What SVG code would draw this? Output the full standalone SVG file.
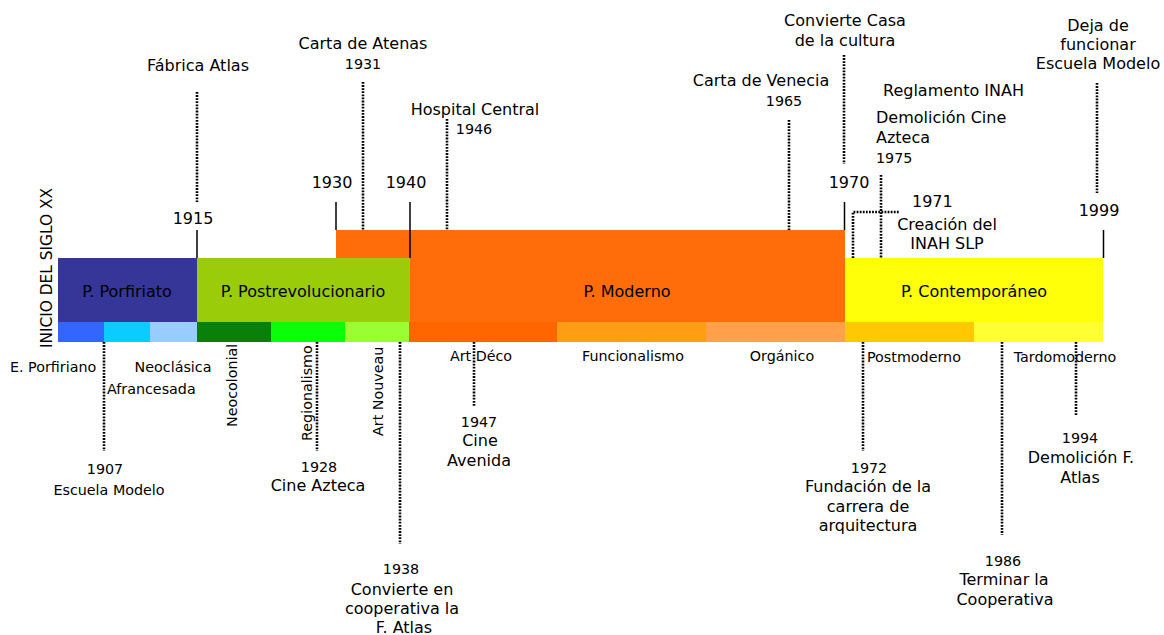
<svg xmlns="http://www.w3.org/2000/svg" width="1164" height="635" viewBox="0 0 1164 635">
<style>
text{font-family:"DejaVu Sans","Verdana",sans-serif;fill:#000}
.l{font-size:16px}
.s{font-size:14.3px}
.m{text-anchor:middle}
.dot{stroke:#000;stroke-width:2.6;stroke-dasharray:1.8 1.3;fill:none}
.sol{stroke:#000;stroke-width:1.5;fill:none}
</style>
<rect width="1164" height="635" fill="#fff"/>
<g id="p-moderno">
<rect x="336" y="230" width="509" height="92" fill="#FF6D0A"/>
<text class="l m" x="627" y="297">P. Moderno</text>
</g>
<g id="p-porfiriato">
<rect x="58" y="258" width="139" height="64" fill="#363699"/>
<text class="l m" x="127" y="297">P. Porfiriato</text>
</g>
<g id="p-postrevolucionario">
<rect x="197" y="258" width="213" height="64" fill="#9BCC0A"/>
<text class="l m" x="303" y="297">P. Postrevolucionario</text>
</g>
<g id="p-contemporaneo">
<rect x="845" y="258" width="258" height="64" fill="#FFFF0A"/>
<text class="l m" x="974" y="297">P. Contemporáneo</text>
</g>
<g id="styles-row">
<rect x="58" y="322" width="46" height="20" fill="#3366FF"/>
<rect x="104" y="322" width="46" height="20" fill="#0ACCFF"/>
<rect x="150" y="322" width="47" height="20" fill="#99CCFF"/>
<rect x="197" y="322" width="74" height="20" fill="#0A800A"/>
<rect x="271" y="322" width="74" height="20" fill="#0AFF0A"/>
<rect x="345" y="322" width="64" height="20" fill="#99FF33"/>
<rect x="409" y="322" width="148" height="20" fill="#FF6600"/>
<rect x="557" y="322" width="149" height="20" fill="#FF9E14"/>
<rect x="706" y="322" width="139" height="20" fill="#FFA04A"/>
<rect x="845" y="322" width="129" height="20" fill="#FFC800"/>
<rect x="974" y="322" width="129" height="20" fill="#FFFF33"/>
</g>
<g id="connectors">
<line class="sol" x1="197" y1="230" x2="197" y2="258"/>
<line class="sol" x1="336" y1="202" x2="336" y2="230"/>
<line class="sol" x1="410" y1="202" x2="410" y2="258"/>
<line class="sol" x1="844.5" y1="202" x2="844.5" y2="230"/>
<line class="sol" x1="1103.5" y1="230" x2="1103.5" y2="258"/>
<line class="dot" x1="197" y1="92" x2="197" y2="202"/>
<line class="dot" x1="363" y1="82" x2="363" y2="230"/>
<line class="dot" x1="447" y1="119" x2="447" y2="230"/>
<line class="dot" x1="789" y1="120" x2="789" y2="230"/>
<line class="dot" x1="844" y1="55" x2="844" y2="164"/>
<line class="dot" x1="881" y1="175" x2="881" y2="258"/>
<polyline class="dot" points="853,258 853,212 900,212"/>
<line class="dot" x1="1097" y1="83" x2="1097" y2="193"/>
<line class="dot" x1="104" y1="342" x2="104" y2="451"/>
<line class="dot" x1="317" y1="342" x2="317" y2="451"/>
<line class="dot" x1="400" y1="342" x2="400" y2="544"/>
<line class="dot" x1="474" y1="342" x2="474" y2="406"/>
<line class="dot" x1="863" y1="342" x2="863" y2="451"/>
<line class="dot" x1="1002" y1="342" x2="1002" y2="535"/>
<line class="dot" x1="1076" y1="342" x2="1076" y2="415"/>
</g>
<g id="inicio">
<text class="l" transform="translate(52,348) rotate(-90)" textLength="160" lengthAdjust="spacingAndGlyphs">INICIO DEL SIGLO XX</text>
</g>
<g id="y1915"><text class="l m" x="193" y="224">1915</text></g>
<g id="y1930"><text class="l m" x="332" y="188">1930</text></g>
<g id="y1940"><text class="l m" x="406" y="188">1940</text></g>
<g id="y1970"><text class="l m" x="849" y="188">1970</text></g>
<g id="y1999"><text class="l m" x="1099" y="216">1999</text></g>
<g id="fabrica-atlas"><text class="l m" x="198" y="71">Fábrica Atlas</text></g>
<g id="carta-atenas">
<text class="l m" x="363" y="49">Carta de Atenas</text>
<text class="s m" x="363" y="69">1931</text>
</g>
<g id="hospital-central">
<text class="l m" x="475" y="115">Hospital Central</text>
<text class="s m" x="474" y="134">1946</text>
</g>
<g id="carta-venecia">
<text class="l m" x="761" y="86">Carta de Venecia</text>
<text class="s m" x="784" y="106">1965</text>
</g>
<g id="casa-cultura">
<text class="l m" x="845" y="26">Convierte Casa</text>
<text class="l m" x="845" y="46">de la cultura</text>
</g>
<g id="reglamento-inah"><text class="l" x="883" y="96">Reglamento INAH</text></g>
<g id="demolicion-cine">
<text class="l" x="876" y="123">Demolición Cine</text>
<text class="l" x="876" y="143">Azteca</text>
<text class="s" x="876" y="163">1975</text>
</g>
<g id="inah-slp">
<text class="l" x="912" y="207">1971</text>
<text class="l m" x="947" y="230">Creación del</text>
<text class="l m" x="947" y="249">INAH SLP</text>
</g>
<g id="escuela-modelo-fin">
<text class="l m" x="1098" y="31">Deja de</text>
<text class="l m" x="1098" y="50">funcionar</text>
<text class="l m" x="1098" y="69">Escuela Modelo</text>
</g>
<g id="style-labels">
<text class="s" x="10" y="372">E. Porfiriano</text>
<text class="s m" x="173" y="372">Neoclásica</text>
<text class="s" x="107" y="394">Afrancesada</text>
<text class="s" transform="translate(237,427) rotate(-90)">Neocolonial</text>
<text class="s" transform="translate(312,441) rotate(-90)">Regionalismo</text>
<text class="s" transform="translate(383,436) rotate(-90)">Art Nouveau</text>
<text class="s m" x="481" y="361">Art Déco</text>
<text class="s m" x="633" y="361">Funcionalismo</text>
<text class="s m" x="782" y="361">Orgánico</text>
<text class="s" x="867" y="362">Postmoderno</text>
<text class="s m" x="1065" y="362">Tardomoderno</text>
</g>
<g id="escuela-modelo">
<text class="s m" x="105" y="474">1907</text>
<text class="s m" x="109" y="495">Escuela Modelo</text>
</g>
<g id="cine-azteca">
<text class="s m" x="319" y="472">1928</text>
<text class="l m" x="318" y="491">Cine Azteca</text>
</g>
<g id="cooperativa">
<text class="s m" x="401" y="574">1938</text>
<text class="l m" x="402" y="595">Convierte en</text>
<text class="l m" x="402" y="614">cooperativa la</text>
<text class="l m" x="404" y="633">F. Atlas</text>
</g>
<g id="cine-avenida">
<text class="s m" x="479" y="427">1947</text>
<text class="l m" x="480" y="446">Cine</text>
<text class="l m" x="479" y="466">Avenida</text>
</g>
<g id="carrera-arquitectura">
<text class="s m" x="869" y="473">1972</text>
<text class="l m" x="868" y="492">Fundación de la</text>
<text class="l m" x="868" y="512">carrera de</text>
<text class="l m" x="868" y="531">arquitectura</text>
</g>
<g id="terminar-cooperativa">
<text class="s m" x="1003" y="566">1986</text>
<text class="l m" x="1004" y="585">Terminar la</text>
<text class="l m" x="1005" y="605">Cooperativa</text>
</g>
<g id="demolicion-atlas">
<text class="s m" x="1080" y="443">1994</text>
<text class="l m" x="1081" y="463">Demolición F.</text>
<text class="l m" x="1080" y="483">Atlas</text>
</g>
</svg>
